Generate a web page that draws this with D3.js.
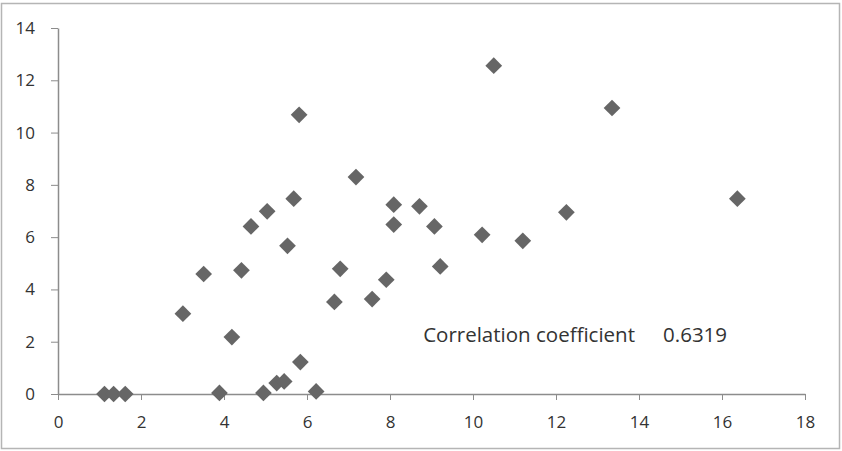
<!DOCTYPE html>
<html>
<head>
<meta charset="utf-8">
<script src="https://cdn.jsdelivr.net/npm/d3@7"></script>
<style>
  html, body { margin: 0; padding: 0; background: #fff; }
  #chart { font-family: "Open Sans", Lato, sans-serif; }
</style>
</head>
<body>
<div id="chart"></div>
<script>
// scatter data
const xValues = [1.12, 1.34, 1.62, 3.01, 3.51, 3.89, 4.19, 4.42, 4.65, 4.95, 5.04, 5.27, 5.45,
  5.53, 5.68, 5.81, 5.84, 6.22, 6.66, 6.80, 7.18, 7.57, 7.91, 8.09, 8.09, 8.71, 9.07, 9.21,
  10.22, 10.50, 11.20, 12.25, 13.35, 16.37];
const yValues = [0, 0, 0, 3.07, 4.59, 0.04, 2.18, 4.73, 6.41, 0.04, 6.99, 0.42, 0.48,
  5.67, 7.47, 10.68, 1.22, 0.10, 3.52, 4.79, 8.30, 3.63, 4.37, 6.48, 7.24, 7.18, 6.41, 4.88,
  6.09, 12.56, 5.86, 6.95, 10.94, 7.47];
const xTicks = [0, 2, 4, 6, 8, 10, 12, 14, 16, 18];
const yTicks = [0, 2, 4, 6, 8, 10, 12, 14];
const corrLabel = "Correlation coefficient";
const corrValue = "0.6319";

const width = 842;
const height = 451;
const margin = { top: 28, right: 37, bottom: 57, left: 58 };

const x = d3.scaleLinear()
  .domain([0, 18])
  .range([margin.left, width - margin.right]);
const y = d3.scaleLinear()
  .domain([0, 14])
  .range([height - margin.bottom, margin.top]);

const svg = d3.select("#chart")
  .append("svg")
  .attr("width", width)
  .attr("height", height)
  .attr("viewBox", [0, 0, width, height]);

// chart border
svg.append("rect")
  .attr("x", 1.5)
  .attr("y", 3.5)
  .attr("width", width - 4)
  .attr("height", height - 6)
  .attr("fill", "#fff")
  .attr("stroke", "#b5b5b5")
  .attr("stroke-width", 1.5);

const axisColor = "#8c8c8c";
const textColor = "#333333";

svg.append("g")
  .attr("transform", `translate(0,${y(0)})`)
  .call(d3.axisBottom(x).tickValues(xTicks).tickSize(6).tickSizeOuter(0).tickPadding(16))
  .attr("font-size", null)
  .attr("font-family", null)
  .call((g) => g.select(".domain").attr("stroke", axisColor).attr("stroke-width", 1.5))
  .call((g) => g.selectAll(".tick line").attr("stroke", axisColor))
  .call((g) => g.selectAll(".tick text")
    .attr("fill", textColor)
    .attr("font-size", 17));

svg.append("g")
  .attr("transform", `translate(${x(0)},0)`)
  .call(d3.axisLeft(y).tickValues(yTicks).tickSize(7).tickSizeOuter(0).tickPadding(16))
  .attr("font-size", null)
  .attr("font-family", null)
  .call((g) => g.select(".domain").attr("stroke", axisColor).attr("stroke-width", 1.5))
  .call((g) => g.selectAll(".tick line").attr("stroke", axisColor))
  .call((g) => g.selectAll(".tick text")
    .attr("fill", textColor)
    .attr("font-size", 17));

const diamond = d3.symbol().type(d3.symbolSquare).size(140);

svg.append("g")
  .attr("class", "points")
  .selectAll("path")
  .data(xValues.map((v, i) => [v, yValues[i]]))
  .join("path")
  .attr("d", diamond)
  .attr("fill", "#666666")
  .attr("transform", (d) => `translate(${x(d[0])},${y(d[1])}) rotate(45)`);

// annotation
svg.append("text")
  .attr("x", x(8.8))
  .attr("y", y(2))
  .attr("fill", textColor)
  .attr("font-size", 20.5)
  .text(corrLabel);
svg.append("text")
  .attr("x", x(14.58))
  .attr("y", y(2))
  .attr("fill", textColor)
  .attr("font-size", 20.5)
  .text(corrValue);
</script>
</body>
</html>
